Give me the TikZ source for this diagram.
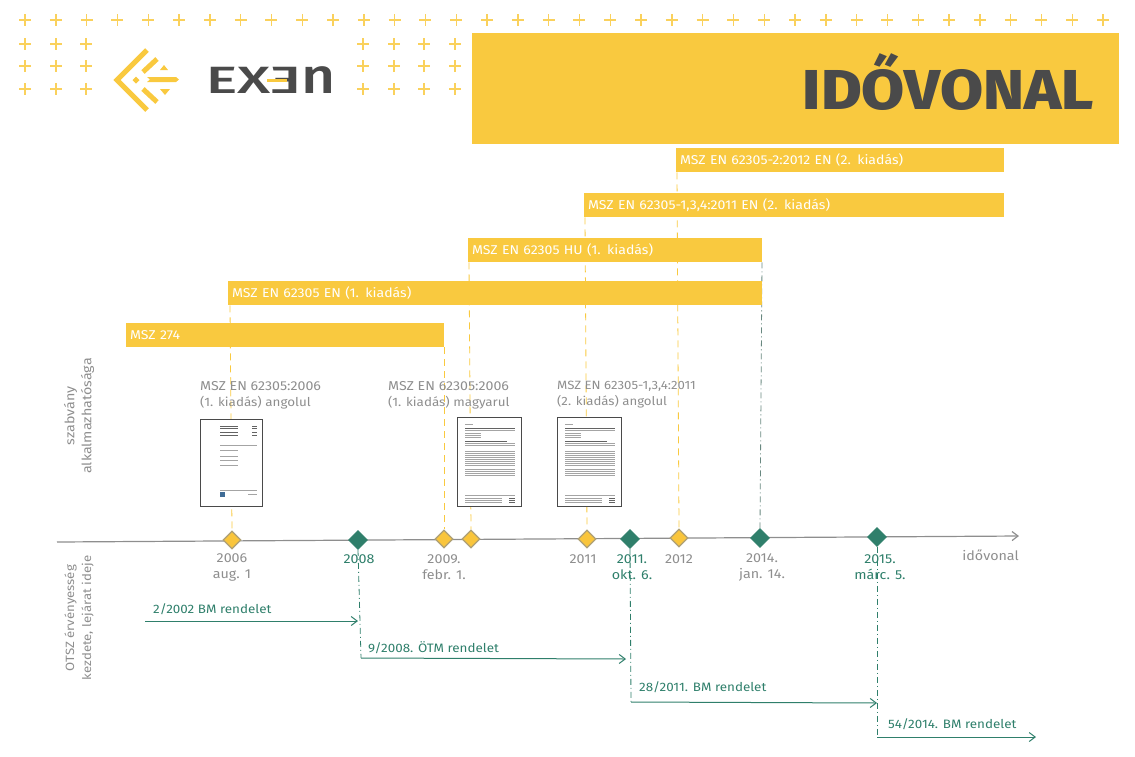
\documentclass[tikz,border=0pt]{standalone}
\usepackage{fontspec}
\setmainfont[FakeStretch=1.1]{Fira Sans}
\newfontfamily\heavyfont{Fira Sans ExtraBold}
\newfontfamily\logofont{Fira Sans Medium}
\usetikzlibrary{shapes.geometric,arrows.meta,backgrounds}
\definecolor{yel}{HTML}{F9C93F}
\definecolor{grn}{HTML}{2F7F6B}
\definecolor{gry}{HTML}{8E8E8E}
\definecolor{dk}{HTML}{4A4A4A}
\definecolor{thumbblue}{HTML}{3F6C96}
\tikzset{
 bar/.style={fill=yel,anchor=north west,minimum height=24pt,inner xsep=4pt,inner ysep=0pt,align=left,text=white,font=\fontsize{12.8}{15}\selectfont},
 ydia/.style={diamond,fill=yel!95!orange,draw=gry!70!yel,line width=1.2pt,inner sep=0pt,minimum size=18pt},
 gdia/.style={diamond,fill=grn,draw=grn,line width=.8pt,inner sep=0pt,minimum size=19pt},
 ydash/.style={yel,line width=.8pt,dash pattern=on 7pt off 5pt},
 gdash/.style={grn,line width=.8pt,dash pattern=on 6pt off 3pt on 1pt off 3pt},
 garrow/.style={grn,line width=1pt,-{Straight Barb[length=6pt,width=9pt]}},
 axisline/.style={gry,line width=1.2pt,-{Straight Barb[length=6pt,width=9pt]}},
 date/.style={align=center,text=gry,inner sep=0pt,font=\fontsize{13}{16}\selectfont},
 gdate/.style={date,text=grn},
 doclabel/.style={anchor=north west,align=left,text=gry,inner sep=0pt,font=\fontsize{12.9}{16}\selectfont},
 rule/.style={anchor=west,text=grn,inner sep=0pt,font=\fontsize{12.2}{15}\selectfont},
 side/.style={rotate=90,align=center,text=gry,inner sep=0pt,font=\fontsize{13}{17}\selectfont},
 thumb/.style={draw=dk,fill=white,line width=.9pt,anchor=north west,inner sep=0pt},
 plusmark/.style={yel!85!white,line width=1.4pt},
 tl/.style={gry!80!white,line width=.5pt},
 td/.style={gry!70!black,line width=.6pt},
}
\newcommand{\plusat}[2]{\draw[plusmark] (#1-6,#2)--(#1+6,#2) (#1,#2-6)--(#1,#2+6);}
\newcommand{\narrowline}{\fontsize{12.2}{16}\selectfont}
\begin{document}
\begin{tikzpicture}[x=1pt,y=-1pt]
\useasboundingbox (0,0) rectangle (1135,756);
% plus marks
\foreach \i in {0,...,35}{\pgfmathsetmacro{\px}{25+30.8*\i}\plusat{\px}{20}}
\foreach \px in {25,56,86,363,394,424,455}{\foreach \py in {44,66,89}{\plusat{\px}{\py}}}
% title
\node[fill=yel,anchor=north west,minimum width=647pt,minimum height=111pt,inner sep=0pt] (title) at (472,33) {};
\node[anchor=east,inner sep=0pt,text=dk,font=\fontsize{54}{60}\heavyfont] (titletext) at (1094,82) {\scalebox{1.156}[1.04]{IDŐVONAL}};
% logo
\draw[yel,line width=5pt] (147,50)--(117,80)--(147,110);
\draw[yel,line width=5pt] (157,59)--(143,72);
\draw[yel,line width=5pt] (143,89)--(157,102);
\fill[yel] (147,77)--(176,77)--(179,79.5)--(176,82)--(147,82)--(150,79.5)--cycle;
\fill[yel] (136,76.5)--(139.5,80)--(136,83.5)--(132.5,80)--cycle;
\fill[yel] (160,70)--(164,65)--(168,70)--cycle;
\fill[yel] (160,89)--(170,89)--(165,95)--cycle;
\node[anchor=center,inner sep=0pt,text=dk,font=\fontsize{38}{40}\logofont] (logotext) at (271,80) {\scalebox{1.55}[1]{EX\reflectbox{E}\scalebox{1}[1.3]{n}}};
\fill[yel] (267,78.5) rectangle (287,81.5);
% bars
\node[bar,minimum width=328pt,text width=320pt] (b1) at (676,148) {MSZ EN 62305-2:2012 EN (2. kiadás)};
\node[bar,minimum width=420pt,text width=412pt] (b2) at (584,193) {MSZ EN 62305-1,3,4:2011 EN (2. kiadás)};
\node[bar,minimum width=294pt,text width=286pt] (b3) at (468,238) {MSZ EN 62305 HU (1. kiadás)};
\node[bar,minimum width=534pt,text width=526pt] (b4) at (228,281) {MSZ EN 62305 EN (1. kiadás)};
\node[bar,minimum width=318pt,text width=310pt] (b5) at (126,323) {MSZ 274};
% diamonds
\node[ydia] (d1) at (232,540) {};
\node[gdia] (d2) at (358,540) {};
\node[ydia] (d3) at (444,539) {};
\node[ydia] (d4) at (471,539) {};
\node[ydia] (d5) at (587,539) {};
\node[gdia] (d6) at (630,539) {};
\node[ydia] (d7) at (679,538) {};
\node[gdia] (d8) at (760,538) {};
\node[gdia] (d9) at (877,537) {};
% free ends
\coordinate (axs) at (57,542);
\coordinate (axe) at (1019,536);
\coordinate (a1s) at (145,621);
\coordinate (a1e) at (358,621);
\coordinate (a2s) at (361,658);
\coordinate (a2e) at (626,659);
\coordinate (a3s) at (631,702);
\coordinate (a3e) at (877,703);
\coordinate (a4s) at (877,737);
\coordinate (a4e) at (1036,737);
\begin{scope}[on background layer]
\draw[axisline] (axs)--(axe);
\draw[ydash] ([xshift=-2pt]d1 |- b4.south)--(d1.north);
\draw[ydash] (d3 |- b5.south)--(d3.north);
\draw[ydash] ([xshift=-2pt]d4 |- b3.south)--(d4.north);
\draw[ydash] ([xshift=-2pt]d5 |- b2.south)--(d5.north);
\draw[ydash] ([xshift=-2pt]d7 |- b1.south)--(d7.north);
\draw[gdash,gry!60!grn] ([xshift=2pt]d8 |- b3.south)--(d8.north);
\draw[gdash] (d2.south)--(a2s);
\draw[gdash] (d6.south)--(a3s);
\draw[gdash] (d9.south)--(a4s);
\end{scope}
\draw[garrow] (a1s)--(a1e);
\draw[garrow] (a2s)--(a2e);
\draw[garrow] (a3s)--(a3e);
\draw[garrow] (a4s)--(a4e);
% thumbnails
\node[thumb,minimum width=62pt,minimum height=87pt] (t1) at (200,419) {};
\begin{scope}[shift={(t1.north west)}]
\foreach \y in {7,9,13,16}{\draw[td] (20,\y)--(38,\y);\draw[td] (52,\y)--(57,\y);}
\draw[tl] (20,26)--(57,26);
\foreach \y in {31,37,41,46}{\draw[tl] (20,\y)--(38,\y);}
\draw[tl] (20,71)--(57,71);
\fill[thumbblue] (20,72.5) rectangle (25,77.5);
\draw[tl] (48,75)--(57,75);
\end{scope}
\foreach \n/\px in {t2/457,t3/557}{
\node[thumb,minimum width=64pt,minimum height=89pt] (\n) at (\px,417) {};
\begin{scope}[shift={(\n.north west)}]
\draw[tl] (8,7)--(16,7);
\draw[td] (8,11)--(58,11);
\draw[tl] (8,13)--(58,13);
\foreach \y in {16,18,20}{\draw[tl] (8,\y)--(24,\y);}
\draw[td] (8,24)--(50,24);
\foreach \y in {26,28}{\draw[tl] (8,\y)--(58,\y);}
\foreach \y in {34,36,...,48}{\draw[tl] (8,\y)--(58,\y);}
\draw[tl] (8,52)--(58,52);
\foreach \y in {54,56,58}{\draw[tl] (8,\y)--(58,\y);}
\draw[tl] (8,78)--(58,78);
\foreach \y in {81,83,85}{\draw[tl] (8,\y)--(45,\y);\draw[td] (52,\y)--(58,\y);}
\end{scope}}
% document labels
\node[doclabel] (l1) at (200,381) {MSZ EN 62305:2006\\{\narrowline(1. kiadás) angolul}};
\node[doclabel] (l2) at (388,381) {MSZ EN 62305:2006\\{\narrowline(1. kiadás) magyarul}};
\node[doclabel] (l3) at (557,381) {{\fontsize{12}{16}\selectfont MSZ EN 62305-1,3,4:2011}\\{\fontsize{12}{16}\selectfont(2. kiadás) angolul}};
% dates
\node[date] (w1) at (232,567) {2006\\aug. 1};
\node[gdate] (w2) at (359,559) {2008};
\node[date] (w3) at (444,567) {2009.\\febr. 1.};
\node[date] (w5) at (583,559) {2011};
\node[gdate] (w6) at (632,567) {2011.\\okt. 6.};
\node[date] (w7) at (679,559) {2012};
\node[date] (w8) at (762,567) {2014.\\jan. 14.};
\node[gdate] (w9) at (880,567) {2015.\\márc. 5.};
\node[date,anchor=east] (axlabel) at (1019,555) {idővonal};
% rules
\node[rule] (r1) at (153,609) {2/2002 BM rendelet};
\node[rule] (r2) at (368,648) {9/2008. ÖTM rendelet};
\node[rule] (r3) at (639,687) {28/2011. BM rendelet};
\node[rule] (r4) at (888,724) {54/2014. BM rendelet};
% side labels
\node[side] (s1) at (79,416) {szabvány\\alkalmazhatósága};
\node[side,font=\fontsize{12}{17}\selectfont] (s2) at (79,618) {OTSZ érvényesség\\kezdete, lejárat ideje};
\end{tikzpicture}
\end{document}
